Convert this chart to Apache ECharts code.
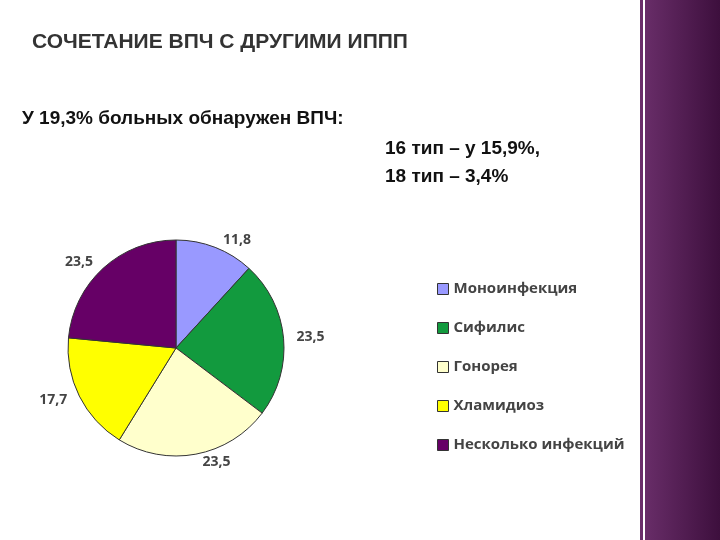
<!DOCTYPE html>
<html><head><meta charset="utf-8">
<script src="https://cdn.jsdelivr.net/npm/echarts@6/dist/echarts.min.js"></script>
<style>html,body{margin:0;padding:0;background:#fff}#c{width:720px;height:540px}</style>
</head><body><div id="c"></div>
<script>
var categories = ['Моноинфекция', 'Сифилис', 'Гонорея', 'Хламидиоз', 'Несколько инфекций'];
var values = [11.8, 23.5, 23.5, 17.7, 23.5];
var colors = ['#9999ff', '#129a3e', '#ffffcc', '#ffff00', '#660066'];

var chart = echarts.init(document.getElementById('c'));
chart.setOption({
    animation: false,
    graphic: [
        { type: 'rect', shape: { x: 640, y: 0, width: 80, height: 540 },
          style: { fill: new echarts.graphic.LinearGradient(0, 0, 1, 0, [
              { offset: 0, color: '#6b2f6b' }, { offset: 1, color: '#3d0f3d' }]) } },
        { type: 'rect', shape: { x: 643, y: 0, width: 2, height: 540 }, style: { fill: '#ffffff' } },
        { type: 'text', left: 32, top: 32, style: { text: 'СОЧЕТАНИЕ ВПЧ С ДРУГИМИ ИППП',
          font: 'bold 21px "Liberation Sans", Arial', fill: '#333' } },
        { type: 'text', left: 22, top: 109, style: { text: 'У 19,3% больных обнаружен ВПЧ:',
          font: 'bold 19px "Liberation Sans", Arial', fill: '#111' } },
        { type: 'text', left: 385, top: 139, style: { text: '16 тип – у 15,9%,',
          font: 'bold 19px "Liberation Sans", Arial', fill: '#111' } },
        { type: 'text', left: 385, top: 167, style: { text: '18 тип – 3,4%',
          font: 'bold 19px "Liberation Sans", Arial', fill: '#111' } }
    ],
    color: colors,
    legend: {
        orient: 'vertical', left: 432, top: 274, itemGap: 19,
        icon: 'rect', itemWidth: 11, itemHeight: 11,
        itemStyle: { borderColor: '#333', borderWidth: 1 },
        textStyle: { fontSize: 15, color: '#444', fontWeight: 'bold', fontFamily: 'Open Sans', lineHeight: 20, height: 20 },
        data: categories
    },
    series: [{
        type: 'pie',
        center: [176, 348],
        radius: 108,
        startAngle: 90,
        clockwise: true,
        itemStyle: { borderColor: '#333', borderWidth: 1 },
        label: { show: true, formatter: function (p) { return String(p.value).replace('.', ','); },
            fontSize: 14, color: '#444', fontWeight: 'bold', fontFamily: 'Open Sans' },
        labelLine: { show: false, length: 8, length2: 0 },
        data: categories.map(function (c, i) { return { name: c, value: values[i] }; })
    }]
});
</script></body></html>
